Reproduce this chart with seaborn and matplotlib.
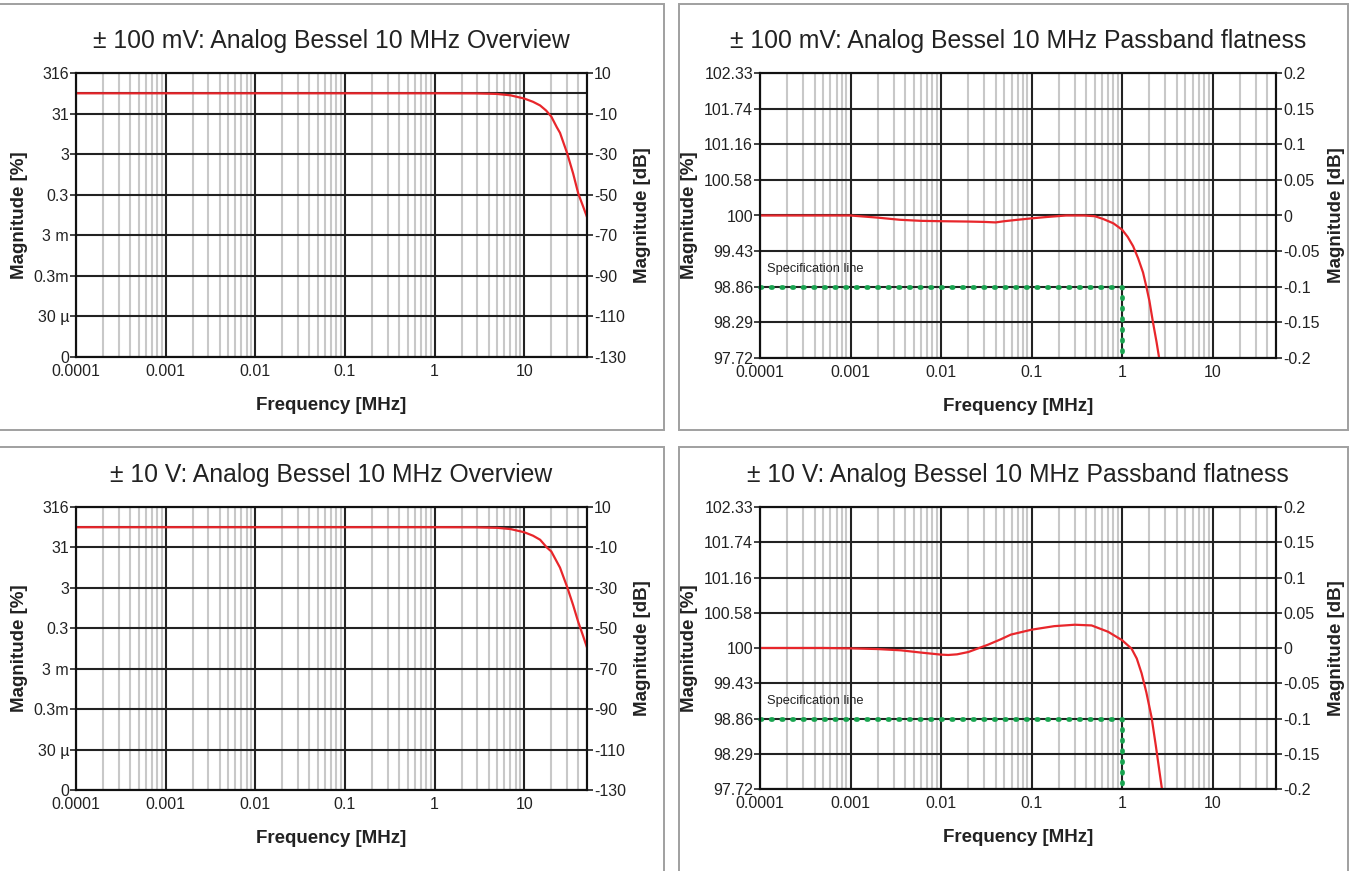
import numpy as np
import pandas as pd
import seaborn as sns
import matplotlib.pyplot as plt
from matplotlib.ticker import LogLocator, NullFormatter
from matplotlib.patches import Rectangle

sns.set_theme(style="white")
plt.rcParams['font.family'] = ['Liberation Sans', 'DejaVu Sans']

# --- data ---
# overview, +-100 mV range
ov100_freq = [1e-4, 1e-3, 0.01, 0.1, 1, 2.8, 4.9, 7, 10, 12.5, 15, 17.5, 20, 23, 25, 30, 35, 40, 45, 50]
ov100_db = [0, 0, 0, 0, 0, -0.05, -0.3, -1.0, -2.6, -4.2, -6.0, -8.5, -11.5, -16.7, -19.5, -29.5, -39.5, -49.5, -55.5, -61]

# overview, +-10 V range
ov10_freq = [1e-4, 1e-3, 0.01, 0.1, 1, 2.8, 5, 7, 10, 12.5, 15, 17.8, 20, 25, 30, 35, 40, 45, 50]
ov10_db = [0, 0, 0, 0, 0, -0.05, -0.3, -0.9, -2.5, -4.2, -6.2, -10, -12, -20, -29.5, -38.5, -47, -53.5, -59.5]

# passband flatness, +-100 mV range
pb100_freq = [1e-4, 5e-4, 1e-3, 2e-3, 3.5e-3, 6e-3, 0.01, 0.02, 0.03, 0.04, 0.05, 0.07, 0.1, 0.15,
              0.24, 0.38, 0.5, 0.62, 0.8, 1.0, 1.15, 1.32, 1.5, 1.7, 1.85, 2.0, 2.19, 2.4, 2.56]
pb100_db = [0, 0, 0, -0.003, -0.006, -0.0075, -0.008, -0.0085, -0.009, -0.0097, -0.008, -0.006, -0.004, -0.002,
            0, 0, -0.001, -0.005, -0.011, -0.02, -0.03, -0.043, -0.06, -0.08, -0.1, -0.12, -0.15, -0.178, -0.2]

# passband flatness, +-10 V range
pb10_freq = [1e-4, 5e-4, 1e-3, 2e-3, 3.6e-3, 6e-3, 0.01, 0.012, 0.015, 0.02, 0.033, 0.045, 0.059, 0.1, 0.178,
             0.3, 0.46, 0.7, 1.0, 1.27, 1.45, 1.64, 1.85, 2.11, 2.35, 2.6, 2.75]
pb10_db = [0, 0, -0.0005, -0.0015, -0.0033, -0.0065, -0.0094, -0.0099, -0.009, -0.0057, 0.0047, 0.012, 0.019,
           0.026, 0.031, 0.033, 0.032, 0.023, 0.011, -0.001, -0.015, -0.036, -0.063, -0.098, -0.138, -0.178, -0.2]

# specification line (passband panels)
spec_freq = [1e-4, 1, 1]
spec_db = [-0.1, -0.1, -0.2]

# axis ticks / labels
freq_ticks = [1e-4, 1e-3, 0.01, 0.1, 1, 10]
freq_labels = ['0.0001', '0.001', '0.01', '0.1', '1', '10']
ov_ticks = [-130, -110, -90, -70, -50, -30, -10, 10]
ov_left = ['0', '30 µ', '0.3m', '3 m', '0.3', '3', '31', '316']
ov_right = ['-130', '-110', '-90', '-70', '-50', '-30', '-10', '10']
pb_ticks = [-0.2, -0.15, -0.1, -0.05, 0, 0.05, 0.1, 0.15, 0.2]
pb_left = ['97.72', '98.29', '98.86', '99.43', '100', '100.58', '101.16', '101.74', '102.33']
pb_right = ['-0.2', '-0.15', '-0.1', '-0.05', '0', '0.05', '0.1', '0.15', '0.2']

RED = '#e8262b'
GREEN = '#18a34f'
W, H = 1354, 871

fig = plt.figure(figsize=(W / 100, H / 100), dpi=100)

# panel frames (grey boxes)
for x0, y0, x1, y1 in [(-2, 4, 664, 430), (679, 4, 1348, 430), (-2, 447, 664, 880), (679, 447, 1348, 880)]:
    fig.add_artist(Rectangle((x0 / W, 1 - y1 / H), (x1 - x0) / W, (y1 - y0) / H,
                             transform=fig.transFigure, fill=False, ec='#a0a0a0', lw=1.4))


def panel(px, py, freq, db, title, overview):
    l, r = px
    t, b = py
    ax = fig.add_axes([l / W, 1 - b / H, (r - l) / W, (b - t) / H])
    df = pd.DataFrame({'f': freq, 'db': db})
    sns.lineplot(data=df, x='f', y='db', ax=ax, color=RED, lw=1.6, sort=False, estimator=None, zorder=5)
    ax.set_xscale('log')
    ax.set_xlim(1e-4, 50)
    if overview:
        ticks, left, right = ov_ticks, ov_left, ov_right
        ax.set_ylim(-130, 10)
        ax.axhline(0, color='#222222', lw=1.5, zorder=1)
    else:
        ticks, left, right = pb_ticks, pb_left, pb_right
        ax.set_ylim(-0.2, 0.2)
        # dotted spec line: round caps on very short dashes
        ax.plot(spec_freq, spec_db, color=GREEN, linewidth=3.4, linestyle=(0, (0.3, 1.95)),
                dash_capstyle='round', clip_on=False, zorder=6)
        ax.text(1.19e-4, -0.075, 'Specification line', fontsize=9.3, color='#222222', va='center')
    ax.set_xticks(freq_ticks, freq_labels)
    ax.xaxis.set_minor_locator(LogLocator(base=10, subs=np.arange(2, 10), numticks=30))
    ax.xaxis.set_minor_formatter(NullFormatter())
    ax.set_yticks(ticks, left)
    ax.grid(which='minor', axis='x', color='#c8c8c8', lw=1.5)
    ax.grid(which='major', axis='both', color='#222222', lw=1.5)
    ax.tick_params(axis='x', which='both', length=0, pad=5, labelsize=11.5, labelcolor='#222222')
    ax.tick_params(axis='y', left=True, length=4, width=1.2, color='#222222', pad=1,
                   labelsize=11.5, labelcolor='#222222')
    for s in ax.spines.values():
        s.set_color('#111111')
        s.set_linewidth(1.5)
    ax.set_xlabel('Frequency [MHz]', fontsize=13.5, fontweight='bold', labelpad=13, color='#222222')
    ax.set_ylabel('Magnitude [%]', fontsize=13.5, fontweight='bold', labelpad=4, color='#222222')
    ax.set_title(title, fontsize=17.8, pad=18, color='#222222')

    ax2 = ax.twinx()
    ax2.set_ylim(ax.get_ylim())
    ax2.set_yticks(ticks, right)
    ax2.grid(False)
    ax2.tick_params(axis='y', right=True, length=4, width=1.2, color='#222222', pad=1,
                    labelsize=11.5, labelcolor='#222222')
    for s in ax2.spines.values():
        s.set_color('#111111')
        s.set_linewidth(1.5)
    ax2.set_ylabel('Magnitude [dB]', fontsize=13.5, fontweight='bold', labelpad=6, color='#222222')
    return ax


panel((76, 587), (73, 357), ov100_freq, ov100_db, '± 100 mV: Analog Bessel 10 MHz Overview', True)
panel((760, 1276), (73, 358), pb100_freq, pb100_db, '± 100 mV: Analog Bessel 10 MHz Passband flatness', False)
panel((76, 587), (507, 790), ov10_freq, ov10_db, '± 10 V: Analog Bessel 10 MHz Overview', True)
panel((760, 1276), (507, 789), pb10_freq, pb10_db, '± 10 V: Analog Bessel 10 MHz Passband flatness', False)

fig.savefig('out.png', dpi=100)
